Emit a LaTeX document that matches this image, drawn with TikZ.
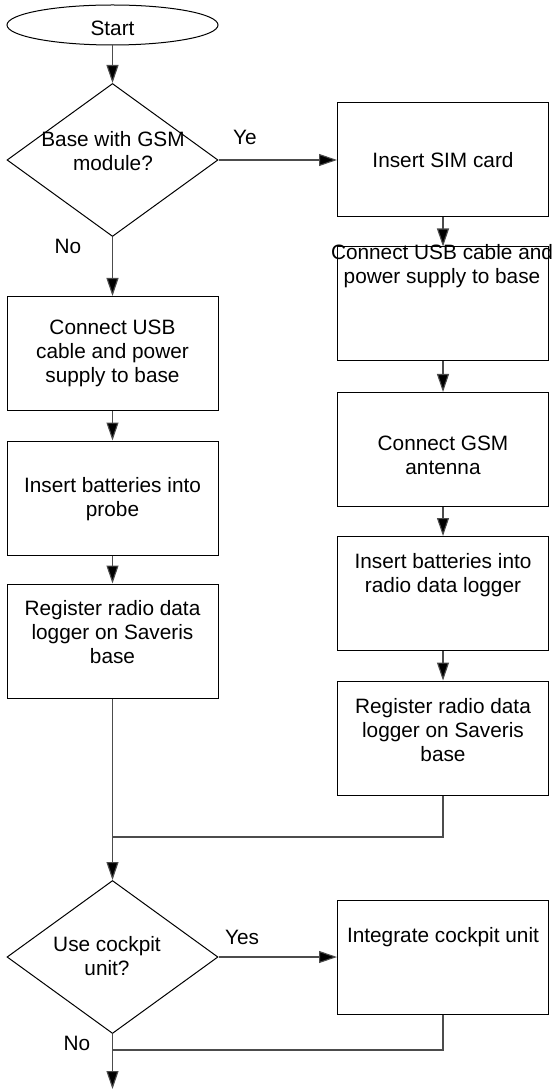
\documentclass[tikz,border=0pt]{standalone}
\usepackage{fontspec}
\setmainfont{Liberation Sans}
\usetikzlibrary{arrows.meta, shapes.geometric}

\tikzset{
  stepbox/.style={draw, line width=0.5pt, minimum width=105.5pt, minimum height=57pt, inner sep=0pt},
  decision/.style={draw, diamond, line width=0.5pt, minimum width=105.5pt, minimum height=76.5pt, inner sep=0pt},
  terminal/.style={draw, ellipse, line width=0.5pt, minimum width=105.5pt, minimum height=20pt, inner sep=0pt},
  txt/.style={align=center, inner sep=0pt, font=\fontsize{10.4}{11.9}\selectfont},
  arr/.style={draw=black!70, line width=0.55pt, -{Triangle[length=9pt, width=6pt, fill=black]}},
  link/.style={draw=black!70, line width=0.55pt}
}

\begin{document}
\begin{tikzpicture}[x=0.5pt, y=-0.5pt]
\useasboundingbox (0,0) rectangle (558,1090);

\node[terminal] (start) at (112.5, 25) {};
\node[txt] (start-t) at (112.5, 28) {Start};

\node[decision] (gsm) at (112.5, 160) {};
\node[txt] (gsm-t) at (113, 151) {Base with GSM\\module?};
\node[txt] (yes1) at (245, 137) {Ye};
\node[txt] (no1) at (68, 246) {No};

% left branch
\node[stepbox] (usbl) at (112.5, 353.5) {};
\node[txt] (usbl-t) at (112.5, 353.5) {Connect USB\\cable and power\\supply to base};
\node[stepbox] (batl) at (112.5, 498) {};
\node[txt] (batl-t) at (112.5, 499.5) {Insert batteries into\\probe};
\node[stepbox] (regl) at (112.5, 641) {};
\node[txt] (regl-t) at (112.5, 632) {Register radio data\\logger on Saveris\\base};

% right branch
\node[stepbox] (sim) at (443, 160) {};
\node[txt] (sim-t) at (443, 160) {Insert SIM card};
\node[stepbox] (usbr) at (443, 304) {};
\node[txt] (usbr-t) at (442, 266.5) {Connect USB cable and\\power supply to base};
\node[stepbox] (ant) at (443, 449.5) {};
\node[txt] (ant-t) at (443, 455) {Connect GSM\\antenna};
\node[stepbox] (batr) at (443, 593.5) {};
\node[txt] (batr-t) at (443, 575.5) {Insert batteries into\\radio data logger};
\node[stepbox] (regr) at (443, 738) {};
\node[txt] (regr-t) at (443, 730) {Register radio data\\logger on Saveris\\base};

\coordinate (join1) at (112.5, 837);

\node[decision] (cockpit) at (112.5, 957) {};
\node[txt] (cockpit-t) at (107, 956) {Use cockpit\\unit?};
\node[txt] (yes2) at (242, 937) {Yes};
\node[txt] (no2) at (77, 1043) {No};
\node[stepbox] (integ) at (443, 957) {};
\node[txt] (integ-t) at (443, 937) {Integrate cockpit unit};

\coordinate (join2) at (112.5, 1050);
\coordinate (end) at (112.5, 1089);

\draw[arr] (start) -- (gsm);
\draw[arr] (gsm) -- (sim);
\draw[arr] (gsm) -- (usbl);
\draw[arr] (usbl) -- (batl);
\draw[arr] (batl) -- (regl);
\draw[arr] (sim) -- (usbr);
\draw[arr] (usbr) -- (ant);
\draw[arr] (ant) -- (batr);
\draw[arr] (batr) -- (regr);
\draw[link] (regr) |- (join1);
\draw[arr] (regl) -- (cockpit);
\draw[arr] (cockpit) -- (integ);
\draw[link] (integ) |- (join2);
\draw[arr] (cockpit) -- (end);

\end{tikzpicture}
\end{document}
